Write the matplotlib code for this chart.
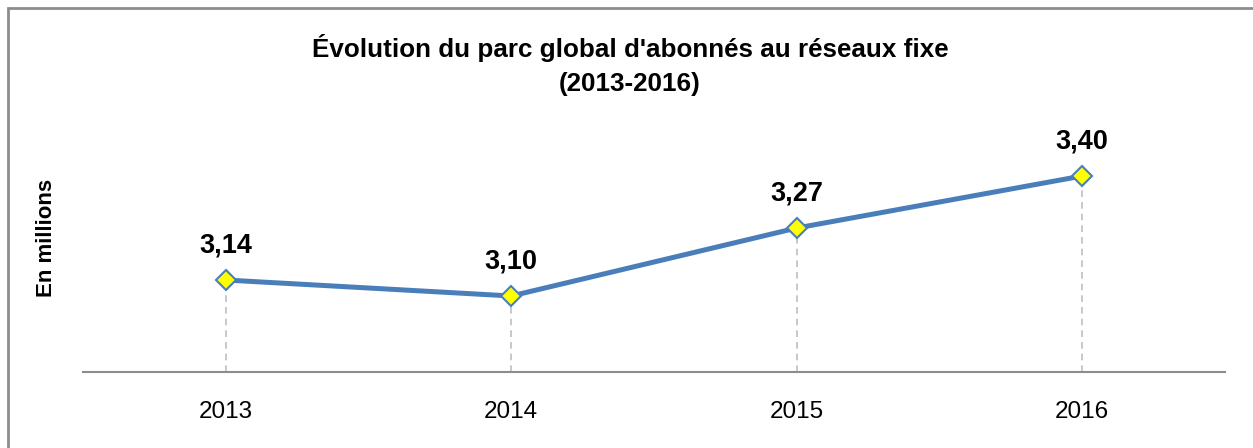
import matplotlib
matplotlib.use("Agg")
import matplotlib.pyplot as plt
from matplotlib.patches import Rectangle

years = ["2013", "2014", "2015", "2016"]
values = [3.14, 3.10, 3.27, 3.40]
labels = ["3,14", "3,10", "3,27", "3,40"]

W, H = 1253, 448
fig = plt.figure(figsize=(W / 100, H / 100), dpi=100)
ax = fig.add_axes([83 / W, 1 - 372 / H, (1225 - 83) / W, (372 - 120) / H])

bold = dict(family=["Liberation Sans Narrow", "Liberation Sans", "DejaVu Sans"], weight="bold")

x = list(range(len(years)))
ymin, ymax = 2.91, 3.54
for xi, v in zip(x, values):
    ax.plot([xi, xi], [ymin, v], color="#bfbfbf", lw=1.2, ls=(0, (4, 3)), zorder=1)
ax.plot(x, values, color="#4a7ebb", lw=3.6, zorder=2,
        marker="D", markersize=10, markerfacecolor="#ffff00",
        markeredgecolor="#4a7ebb", markeredgewidth=1.5)
for xi, v, lab in zip(x, values, labels):
    ax.annotate(lab, (xi, v), xytext=(0, 25), textcoords="offset points",
                ha="center", va="center", fontsize=19.5, color="#000000", **bold)

ax.set_xlim(-0.5, 3.5)
ax.set_ylim(ymin, ymax)
ax.set_xticks(x)
ax.set_xticklabels(years, fontsize=17.5, family=["Liberation Sans", "DejaVu Sans"])
ax.tick_params(axis="x", length=0, pad=21)
ax.set_yticks([])
for s in ["top", "right", "left"]:
    ax.spines[s].set_visible(False)
ax.spines["bottom"].set_color("#8c8c8c")
ax.spines["bottom"].set_linewidth(1.5)

fig.text(630 / W, 1 - 48 / H, "Évolution du parc global d'abonnés au réseaux fixe",
         ha="center", va="center", fontsize=18.7, **bold)
fig.text(630 / W, 1 - 84 / H, "(2013-2016)", ha="center", va="center", fontsize=18.7, **bold)
fig.text(46 / W, 1 - 238 / H, "En millions", ha="center", va="center", rotation=90,
         fontsize=16, **bold)

fig.patches.append(Rectangle((7.5 / W, -0.1), 1.2, 1.1 - 8.5 / H, transform=fig.transFigure,
                             fill=False, edgecolor="#8c8c8c", lw=2))

fig.savefig("out.png", dpi=100)
